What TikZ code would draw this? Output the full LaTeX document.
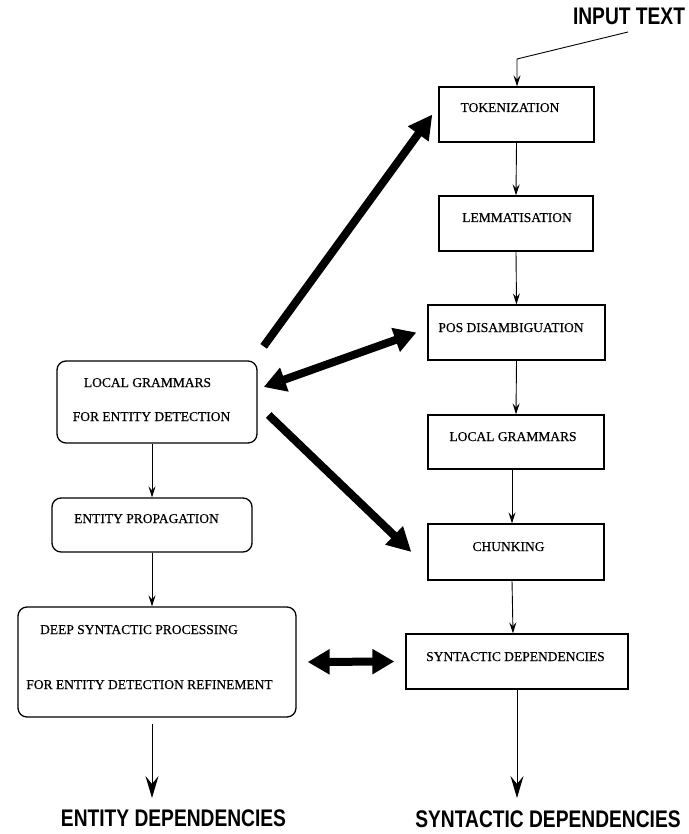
\documentclass[tikz,border=0pt]{standalone}
\usepackage{fontspec}
\setmainfont{Liberation Serif}
\newfontfamily\boxfont{Liberation Serif}[FakeBold=0.5]
\newfontfamily\capfont{Liberation Sans}
\usetikzlibrary{arrows.meta}

\tikzset{
  sqbox/.style={draw, line width=1.3pt, inner sep=0pt},
  rndbox/.style={draw, line width=1.3pt, rounded corners=9pt, inner sep=0pt},
  lbl/.style={anchor=base, inner sep=0pt, font=\boxfont\fontsize{13.5}{15}\selectfont},
  captxt/.style={anchor=base, inner sep=0pt, font=\capfont\bfseries\fontsize{24}{28}\selectfont},
  flow/.style={line width=0.9pt, -{Stealth[length=11pt, width=7pt, inset=4pt]}},
  outflow/.style={line width=1pt, -{Stealth[length=22pt, width=13pt, inset=8pt]}},
  big/.style={line width=8pt, -{Triangle[length=24pt, width=24pt]}},
  bigboth/.style={line width=8pt, {Triangle[length=22pt, width=24pt]}-{Triangle[length=22pt, width=24pt]}},
}

\begin{document}
\begin{tikzpicture}[x=1pt, y=-1pt]
\useasboundingbox (0,0) rectangle (688,834);

% right column: processing chain
\node[sqbox, minimum width=155pt, minimum height=55pt] (tok) at (516.5,114.5) {};
\node[sqbox, minimum width=154pt, minimum height=55pt] (lem) at (516,223.5) {};
\node[sqbox, minimum width=177pt, minimum height=55pt] (pos) at (516.5,332.5) {};
\node[sqbox, minimum width=176pt, minimum height=54pt] (lgr) at (516,442) {};
\node[sqbox, minimum width=176pt, minimum height=56pt] (chk) at (516,552) {};
\node[sqbox, minimum width=222pt, minimum height=55pt] (syn) at (517,661.5) {};

\node[lbl] (tokT) at (510,112) {TOKENIZATION};
\node[lbl] (lemT) at (517,222) {LEMMATISATION};
\node[lbl] (posT) at (511,332) {POS DISAMBIGUATION};
\node[lbl] (lgrT) at (513,441) {LOCAL GRAMMARS};
\node[lbl] (chkT) at (508.5,551) {CHUNKING};
\node[lbl] (synT) at (515.5,661) {SYNTACTIC DEPENDENCIES};

% left column: entity processing
\node[rndbox, minimum width=200pt, minimum height=82pt] (lge) at (157,402) {};
\node[rndbox, minimum width=200pt, minimum height=54pt] (prop) at (152,525) {};
\node[rndbox, minimum width=278pt, minimum height=110pt] (deep) at (157,662) {};

\node[lbl] (lgeT1) at (147.5,387) {LOCAL GRAMMARS};
\node[lbl] (lgeT2) at (151.5,421) {FOR ENTITY DETECTION};
\node[lbl] (propT) at (146.5,523) {ENTITY PROPAGATION};
\node[lbl] (deepT1) at (139,634) {DEEP SYNTACTIC PROCESSING};
\node[lbl] (deepT2) at (149.5,689) {FOR ENTITY DETECTION REFINEMENT};

% input and outputs
\node[captxt] (inp) at (629,25) {\scalebox{0.8}[1]{INPUT TEXT}};
\node[captxt] (entout) at (173.5,826) {\scalebox{0.8}[1]{ENTITY DEPENDENCIES}};
\node[captxt] (synout) at (548,827) {\scalebox{0.8}[1]{SYNTACTIC DEPENDENCIES}};

\coordinate (inpfoot) at (628,32);
\coordinate (inpbend) at (517,59);
\coordinate (entend) at (152,798);
\coordinate (synend) at (517,798);

% thin flow connectors
\draw[flow] (inpfoot) -- (inpbend) -- (inpbend |- tok.north);
\draw[flow] (tok.south) -- (lem.north);
\draw[flow] (lem.south) -- (pos.north);
\draw[flow] (pos.south) -- (lgr.north);
\draw[flow] ([xshift=-4pt]lgr.south) -- ([xshift=-4pt]chk.north);
\draw[flow] ([xshift=-4pt]chk.south) -- ([xshift=-4pt]syn.north);
\draw[outflow] (syn.south) -- (synend);

\draw[flow] ([xshift=-5pt]lge.south) -- (prop.north);
\draw[flow] (prop.south) -- ([xshift=-5pt]deep.north);
\draw[outflow] ([xshift=-5pt,yshift=-6pt]deep.south) -- (entend);

% heavy links between the two columns
\draw[big] ([xshift=6pt,yshift=14pt]lge.north east) -- ([xshift=-6pt]tok.west);
\draw[bigboth] ([xshift=6pt,yshift=15pt]lge.east) -- ([xshift=-11pt]pos.west);
\draw[big] ([xshift=11pt,yshift=-13pt]lge.east) -- ([xshift=-16pt]chk.west);
\draw[bigboth] ([xshift=11pt]deep.east) -- ([xshift=-11pt]syn.west);
\end{tikzpicture}
\end{document}
